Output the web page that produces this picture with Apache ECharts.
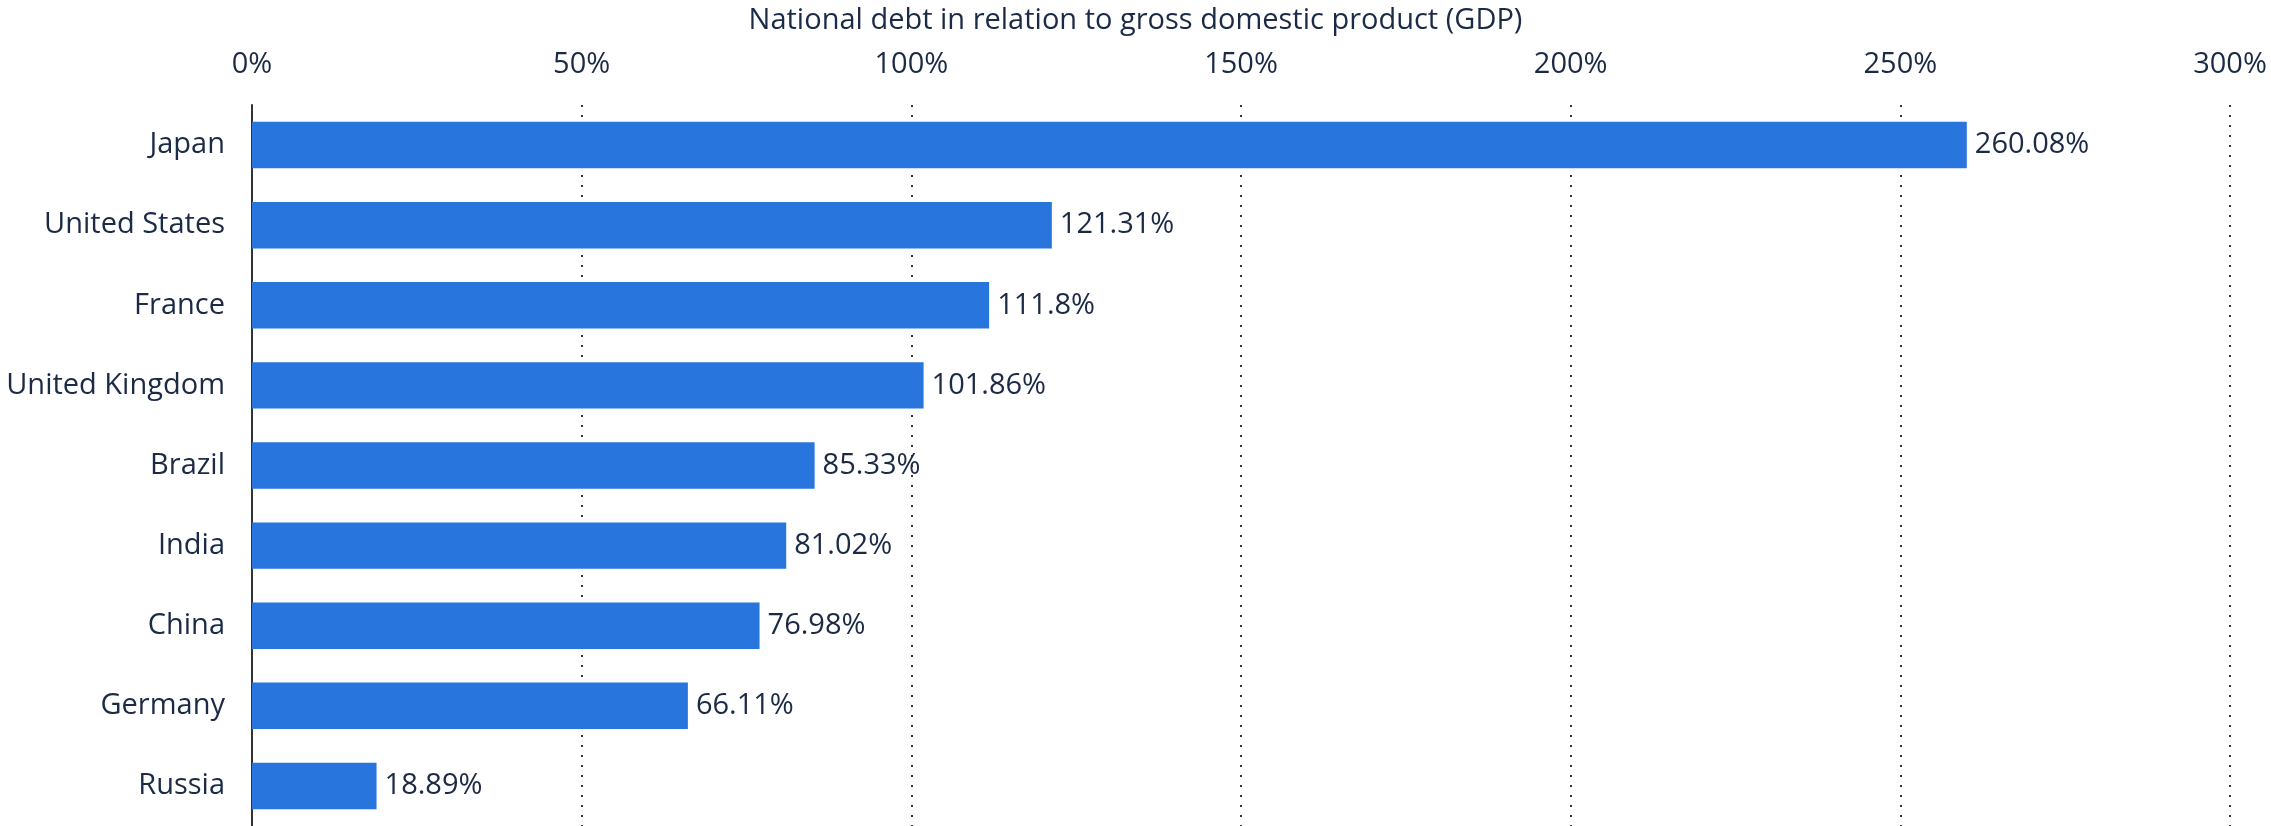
<!DOCTYPE html>
<html>
<head>
<meta charset="utf-8">
<script src="https://cdn.jsdelivr.net/npm/echarts@6/dist/echarts.min.js"></script>
<style>
  html, body { margin: 0; padding: 0; background: #fff; }
  #chart { width: 2271px; height: 826px; }
</style>
</head>
<body>
<div id="chart"></div>
<script>
// data
var countries = ['Japan', 'United States', 'France', 'United Kingdom', 'Brazil', 'India', 'China', 'Germany', 'Russia'];
var debtShare = [260.08, 121.31, 111.8, 101.86, 85.33, 81.02, 76.98, 66.11, 18.89];
var axisTitle = 'National debt in relation to gross domestic product (GDP)';

var textColor = '#1b2a45';
var myChart = echarts.init(document.getElementById('chart'));
var option = {
    textStyle: { fontFamily: 'Open Sans' },
    title: {
        text: axisTitle,
        left: 'center',
        top: 1,
        textStyle: { fontSize: 29, fontWeight: 'normal', color: textColor, fontFamily: 'Open Sans' }
    },
    grid: { left: 252, right: 41, top: 105, bottom: 0 },
    xAxis: {
        type: 'value',
        position: 'top',
        min: 0,
        max: 300,
        interval: 50,
        axisLine: { show: false },
        axisTick: { show: false },
        axisLabel: {
            formatter: '{value}%',
            fontSize: 29,
            color: textColor,
            margin: 26
        },
        splitLine: {
            show: true,
            lineStyle: { color: '#333', width: 2, type: [2, 8] }
        }
    },
    yAxis: {
        type: 'category',
        inverse: true,
        data: countries,
        axisLine: { show: true, lineStyle: { color: '#333', width: 2 } },
        axisTick: { show: false },
        axisLabel: { fontSize: 29, color: textColor, margin: 27 }
    },
    series: [{
        type: 'bar',
        data: debtShare,
        barCategoryGap: '42%',
        itemStyle: { color: '#2876dd' },
        label: {
            show: true,
            position: 'right',
            distance: 8,
            fontSize: 29,
            color: textColor,
            formatter: function (p) { return p.value + '%'; }
        },
        z: 3
    }],
    animation: false
};
myChart.setOption(option);
</script>
</body>
</html>
